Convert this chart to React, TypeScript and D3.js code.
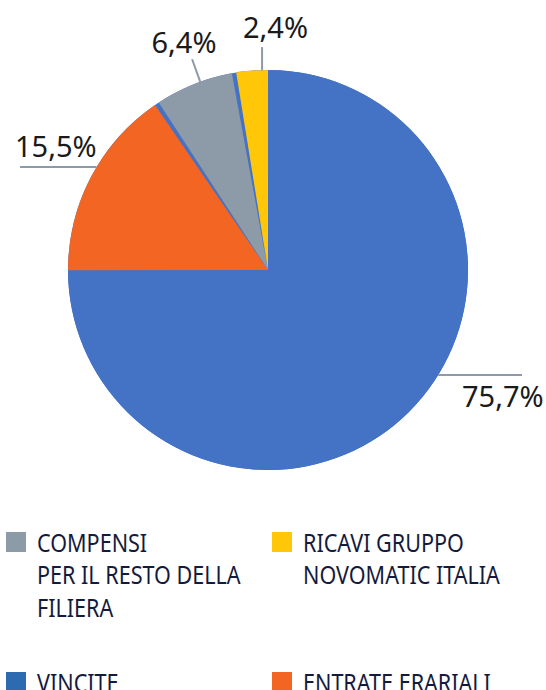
import { useEffect, useRef } from 'react';
import * as d3 from 'd3';

// slice data, clockwise from 12 o'clock
const categories = ['VINCITE', 'ENTRATE ERARIALI', 'COMPENSI', 'RICAVI'];
const values = [75.7, 15.5, 6.4, 2.4];
const valueLabels = ['75,7%', '15,5%', '6,4%', '2,4%'];
const sliceColors = ['#4472C4', '#F26522', '#8D9AA7', '#FFC708'];

// legend
const legendLines = [
  ['COMPENSI', 'PER IL RESTO DELLA', 'FILIERA'],
  ['RICAVI GRUPPO', 'NOVOMATIC ITALIA'],
  ['VINCITE'],
  ['ENTRATE ERARIALI'],
];
const legendColors = ['#8D9AA7', '#FFC708', '#2C6BAF', '#F26522'];

export default function App() {
  const svgRef = useRef<SVGSVGElement>(null);

  useEffect(() => {
    if (!svgRef.current) return;
    const svg = d3.select(svgRef.current);
    svg.selectAll('*').remove();

    const width = 546;
    const height = 690;
    const radius = 200;
    const cx = 268;
    const cy = 270;
    const pad = 0.022;

    svg.attr('width', width).attr('height', height);

    const g = svg.append('g').attr('transform', `translate(${cx},${cy})`);

    // blue disc behind, shows through the slice gaps
    g.append('circle').attr('r', radius).attr('fill', sliceColors[0]);

    const pie = d3
      .pie<number>()
      .sort(null)
      .padAngle(pad)
      .value((d) => d);
    // no visible gap where a slice meets the blue one
    const arcs = pie(values).map((d, i) => {
      if (i === 1) return { ...d, startAngle: d.startAngle - pad / 2 };
      if (i === values.length - 1) return { ...d, endAngle: d.endAngle + pad / 2 };
      return d;
    });

    const arc = d3.arc<d3.PieArcDatum<number>>().innerRadius(0).outerRadius(radius);

    g.selectAll('path.slice')
      .data(arcs)
      .join('path')
      .attr('class', 'slice')
      .attr('d', arc)
      .attr('fill', (_, i) => sliceColors[i]);

    // label leaders: angle (deg from top, clockwise) where the leader meets the rim
    const pt = (deg: number, r: number) => {
      const a = (deg * Math.PI) / 180;
      return [r * Math.sin(a), -r * Math.cos(a)];
    };
    const lineColor = '#8D9AA7';
    const labelFont = "'Noto Sans', sans-serif";

    const leaders = [
      { deg: 121.7, kind: 'h', to: 522 - cx, tx: 462 - cx, ty: 407 - cy, anchor: 'start' },
      { deg: 301, kind: 'h', to: 20 - cx, tx: 15 - cx, ty: 157 - cy, anchor: 'start' },
      { deg: 340.2, kind: 'r', len: 24, tx: 184 - cx, ty: 53 - cy, anchor: 'middle' },
      { deg: 358.3, kind: 'v', len: 23, tx: 243 - cx, ty: 38 - cy, anchor: 'start' },
    ];

    leaders.forEach((l, i) => {
      const [x1, y1] = pt(l.deg, radius);
      let x2 = x1;
      let y2 = y1;
      if (l.kind === 'h') {
        x2 = l.to as number;
      } else if (l.kind === 'r') {
        const [px, py] = pt(l.deg, radius + (l.len as number));
        x2 = px;
        y2 = py;
      } else {
        y2 = y1 - (l.len as number);
      }
      g.append('line')
        .attr('x1', x1)
        .attr('y1', y1)
        .attr('x2', x2)
        .attr('y2', y2)
        .attr('stroke', lineColor)
        .attr('stroke-width', 2);

      g.append('text')
        .attr('x', l.tx)
        .attr('y', l.ty)
        .attr('text-anchor', l.anchor)
        .attr('font-family', labelFont)
        .attr('font-size', '29px')
        .attr('fill', '#1a1a1a')
        .text(valueLabels[i]);
    });

    // legend
    const legendPos = [
      [6, 532],
      [272, 532],
      [6, 672],
      [272, 672],
    ];
    const leg = svg.append('g');
    legendLines.forEach((lines, i) => {
      const [lx, ly] = legendPos[i];
      leg.append('rect')
        .attr('x', lx)
        .attr('y', ly)
        .attr('width', 20)
        .attr('height', 20)
        .attr('fill', legendColors[i]);
      const t = leg
        .append('text')
        .attr('transform', `translate(${lx + 31},${ly + 20}) scale(0.83,1)`)
        .attr('font-family', labelFont)
        .attr('font-size', '26px')
        .attr('fill', '#141a3c');
      lines.forEach((line, j) => {
        t.append('tspan')
          .attr('x', 0)
          .attr('y', j * 32.5)
          .text(line);
      });
    });
  }, []);

  return (
    <div style={{ position: 'absolute', left: 0, top: 0 }}>
      <svg ref={svgRef} style={{ display: 'block' }} />
    </div>
  );
}
